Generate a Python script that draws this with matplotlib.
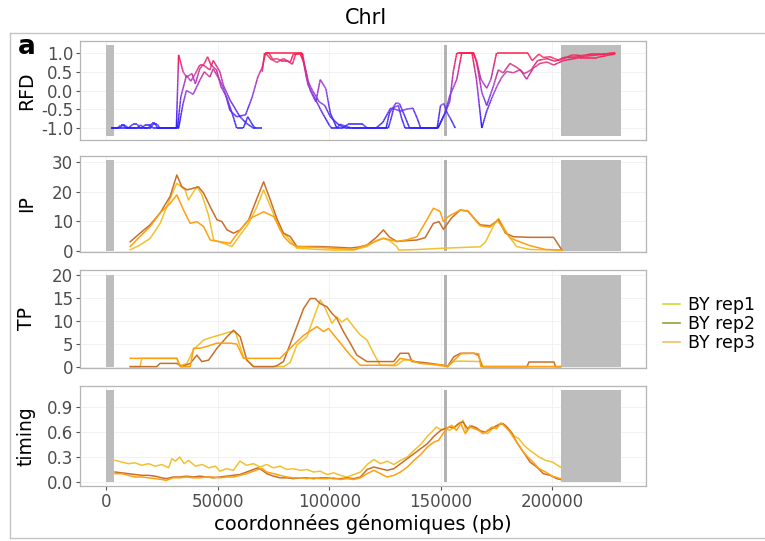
import numpy as np
import matplotlib
matplotlib.use("Agg")
import matplotlib.pyplot as plt
from matplotlib.collections import LineCollection
from matplotlib.colors import LinearSegmentedColormap, Normalize
from matplotlib.lines import Line2D
from matplotlib.patches import Rectangle

nan = float("nan")

# positions en kb
rfd_pos_rep1 = [2, 6, 7.5, 9, 14, 15.5, 17, 20, 21, 23, 24, 31.5, 32.5, 34.5, 36, 38.5, 40, 42, 44, 45.5,
                47, 49.5, 51.5, 54, 57, 58.5, 61.5, 63.5, 66, 67, nan, 70, 71, 73, 75, 76.5, 79.5, 82.5, 84, 87,
                88.5, 90.5, 93.5, 96.5, 100, 101, 103.5, 105, 107, 110, 120, 125.5, 127, 130, 131.5, 134, 136, 148.4, 149.9, 151.4,
                152.9, 154.4, 156.5, nan, 158, 164.7, 166, 168, 170.6, 172.5, 175, 182, 189, 191, 194, 196, 199, 203, 205, 209,
                213, 217, 222, 228]
rfd_rep1 = [-1, -1, -0.92, -1, -1, -0.92, -1, -1, -0.9, -0.9, -1, -1, 0.95, 0.5, 0.36, 0.45, 0.18, 0.58, 0.72, 0.9,
            0.68, 0.55, 0.1, -0.17, -0.7, -1, -1, -0.7, -0.95, -1, nan, 0.5, 1, 1, 0.8, 0.75, 0.85, 0.75, 0.98, 0.98,
            0.75, 0.15, -0.2, -0.55, -0.92, -1, -1, -0.9, -0.95, -1, -1, -1, -0.6, -0.33, -0.35, -0.7, -1, -1, -0.4, -0.35,
            -0.6, -0.75, -1, nan, 1, 1, 0.8, 0.3, 0.06, 0.3, 1, 1, 1, 0.8, 0.97, 0.88, 0.9, 0.8, 0.85, 0.95,
            0.93, 0.97, 0.97, 1]

rfd_pos_rep2 = [2, 10, 12, 14, 15, 19, 20.5, 22, 23, 32, 33.5, 36, 38, 40, 42, 43.5, 46.5, 48, 51, 52.5,
                55.5, 60, 63, 66, 70, nan, 71.5, 74, 76.5, 78.5, 81, 83.5, 85, 87.5, 89.5, 91.5, 94, 96, 98.5, 100.5,
                103.4, 106, 108.5, 115, 117, 126.5, 127.5, 129, 131, 132.5, 134, 148.8, 151.9, 154, 155.6, 157.2, 164, 166, 168.4, 170.6,
                172.9, 175.1, 177.3, 179.6, 182.6, 185.6, 188.5, 191.5, 194.5, 197.6, 200.6, 205.1, 212.6, 220.1, 228.3]
rfd_rep2 = [-1, -1, -0.9, -0.9, -1, -1, -0.88, -0.88, -1, -1, -0.17, 0.4, 0.25, 0.45, 0.68, 0.68, 0.55, 0.8, 0.5, 0.15,
            -0.25, -0.7, -0.88, -1, -1, nan, 1, 0.82, 0.85, 0.8, 0.8, 0.7, 0.98, 1, 0.55, 0.0, -0.3, 0.29, 0.05, -0.6,
            -1, -1, -0.9, -0.9, -1, -1, -0.8, -0.45, -0.4, -0.75, -1, -1, -0.6, -0.3, 0.5, 1, 1, 0.3, -1, -0.55,
            -0.2, 0.1, 0.35, 0.51, 0.47, 0.56, 0.3, 0.6, 0.72, 0.76, 0.68, 0.8, 0.88, 0.88, 0.98]

rfd_pos_rep3 = [2, 5, 6.5, 8.5, 10, 16, 17.5, 19.5, 21, 32.5, 34.5, 36, 39, 42, 44, 46.5, 48, 51, 53, 55.5,
                58.5, 62.5, 65.5, 68, 70, 71.5, 88, 90, 92.5, 95.5, 98, 100.5, 104, 107, 121, 124, 127.5, 129.5, 132, 134.5,
                137.5, 139.5, 141, 148.7, 151.9, 154, 157.2, 159.4, 164.7, 166.2, 168.4, 170.6, 173.5, 175.8, 178, 181, 184, 187.5, 190.5, 193.4,
                197.6, 201.3, 205.1, 212.6, 220, 228.3]
rfd_rep3 = [-1, -1, -0.93, -0.93, -1, -1, -0.92, -0.92, -1, -1, -0.35, 0.0, -0.1, 0.27, 0.5, 0.36, 0.58, 0.27, 0.0, -0.53,
            -0.7, -0.65, -0.17, 0.36, 0.62, 1, 1, 0.3, 0.0, -0.3, -0.4, -0.7, -0.9, -1, -1, -0.85, -0.47, -0.5, -0.55, -0.5,
            -0.47, -0.75, -1, -1, -0.61, -0.15, 0.3, 1, 1, 0.72, -0.05, -0.4, 0.1, 0.55, 0.47, 0.72, 0.62, 0.45, 0.55, 0.8,
            0.85, 0.78, 0.88, 0.9, 0.95, 1]

ip_pos_rep1 = [10.8, 15.2, 19.7, 24.2, 28.7, 31.7, 35.4, 36.9, 40.7, 42.9, 45.9, 48.2, 52.7, 56.4, 60.1, 63.9, 67.6, 70.6, 74.3, 78.0,
               81.0, 85.5, 95.9, 102, 110.9, 116.9, 121, 124.3, 127, 130.3, 131.2, 140, 150, 160, 167.7, 170, 174, 175.9, 180.5, 184,
               190, 204.3]
ip_rep1 = [0.4, 2.0, 4.2, 9.3, 17.7, 22.8, 20.6, 17.2, 21.7, 19.0, 12.1, 3.7, 2.6, 1.5, 5.4, 9.3, 14.9, 20.6, 13.8, 7.1,
           4.9, 0.95, 0.5, 0.3, 0.3, 1.5, 3.5, 4.3, 3.5, 1.5, 0.3, 0.5, 0.9, 1.2, 1.4, 3.0, 9.0, 11.0, 5.0, 1.5,
           0.5, 0.3]
ip_pos_rep2 = [10.8, 15.2, 19.7, 24.2, 28.7, 31.7, 33.9, 36.2, 38.4, 41.4, 43.7, 47.4, 49.7, 51.9, 54.2, 57.1, 60.1, 63.9, 67.6, 70.6,
               73.6, 76.5, 79.5, 82.5, 85.5, 94.5, 102, 109.4, 113, 116.9, 121, 124.3, 127, 130.3, 135, 139.3, 143, 146.7, 149.2, 151.2,
               154.7, 158.7, 162, 165, 167.7, 172.2, 175.9, 179, 182.6, 190, 200.6, 204.3]
ip_rep2 = [3.1, 6.0, 8.8, 12.8, 18.4, 25.6, 21.7, 20.6, 21.0, 21.6, 19.5, 13.8, 10.5, 9.9, 7.1, 6.0, 7.1, 10.5, 17.7, 23.3,
           17.2, 11.0, 6.0, 4.9, 1.5, 1.5, 1.3, 1.0, 1.3, 2.0, 4.5, 7.1, 4.7, 3.2, 3.5, 3.7, 4.5, 9.3, 9.9, 7.3,
           11.0, 13.8, 13.5, 11.0, 8.8, 8.5, 10.5, 6.0, 4.8, 4.6, 4.6, 0.3]
ip_pos_rep3 = [10.8, 15.2, 19.7, 24.2, 28.7, 31.7, 34.7, 37.7, 40.7, 43.7, 46.7, 51.2, 55.6, 60.1, 64.6, 70.6, 75.1, 79.6, 82.5, 85.5,
               95, 105, 110.9, 116.9, 121, 124.3, 127, 130.3, 135, 139.3, 143.7, 146.7, 149.7, 151.2, 153.4, 158.7, 162.5, 166, 167.7, 172,
               175.5, 178.5, 181, 184, 190, 197, 204.3]
ip_rep3 = [1.5, 4.9, 8.2, 12.8, 16.0, 18.9, 13.8, 9.3, 9.9, 8.2, 3.7, 3.1, 2.6, 7.1, 11.0, 13.2, 11.6, 4.9, 2.6, 1.5,
           1.2, 0.8, 0.5, 2.0, 3.3, 4.3, 3.8, 3.2, 3.8, 4.8, 10.4, 14.4, 13.3, 9.9, 11.6, 13.8, 13.3, 9.9, 8.5, 8.0,
           10.3, 7.0, 4.5, 3.5, 1.8, 0.5, 0.3]

tp_pos_rep1 = [10.8, 15.2, 16.0, 31.7, 33.2, 36.2, 39.2, 43.7, 48.2, 51.2, 55.7, 57.9, 61.6, 66.1, 79.5, 82.5, 85.5, 90.0, 93.0, 96.0,
               98.2, 101.2, 103.4, 105.7, 108.0, 110.9, 113.9, 116.9, 119.9, 122.9, 130, 133.3, 136.3, 140, 152.8, 155.8, 158.8, 167.8, 169, 203.7]
tp_rep1 = [0.1, 0.1, 1.9, 1.9, 0.3, 0.8, 3.8, 5.9, 6.6, 7.0, 7.7, 7.7, 2.2, 0.1, 0.1, 1.0, 4.8, 6.6, 10.6, 14.6,
           12.8, 9.5, 10.9, 9.8, 10.6, 8.8, 7.0, 5.9, 3.0, 0.4, 0.3, 1.5, 1.6, 1.0, 0.1, 1.2, 1.3, 1.2, 0.1, 0.1]
tp_pos_rep2 = [10.8, 22.7, 24.2, 31.7, 33.9, 37.7, 40.7, 42.9, 45.9, 49.7, 54.2, 57.1, 60.1, 63.1, 66.1, 75.1, 76.5, 79.5, 84.0, 88.5,
               91.5, 93.7, 96.0, 99.0, 101.2, 103.4, 106.4, 109.4, 112.4, 116.9, 128.9, 131.8, 135.6, 137.1, 142.3, 151.3, 153, 155.8, 158.8, 165,
               167, 168.5, 188.7, 189.5, 200.7, 201.5, 203.7]
tp_rep2 = [0.1, 0.1, 0.8, 0.8, 0.1, 0.8, 2.6, 1.2, 1.5, 4.1, 6.6, 8.0, 6.6, 1.5, 0.1, 0.1, 0.3, 1.2, 6.9, 12.7,
           14.9, 14.9, 13.8, 13.1, 11.7, 10.6, 7.7, 5.2, 2.6, 1.2, 1.2, 3.0, 3.0, 1.2, 1.0, 0.4, 0.1, 2.2, 3.0, 3.0,
           2.5, 0.1, 0.1, 1.1, 1.1, 0.1, 0.1]
tp_pos_rep3 = [10.8, 31.7, 33.2, 37.7, 39.2, 42.2, 45.2, 49.7, 55.7, 58.6, 61.6, 78.0, 82.5, 88.5, 94.5, 97.5, 99.7, 102.7, 105.7, 109.4,
               113.9, 128.9, 131.8, 136.3, 140.8, 151.3, 153, 156, 159, 164, 167, 168, 203.7]
tp_rep3 = [1.9, 1.9, 0.1, 0.1, 4.1, 4.1, 4.5, 5.2, 5.2, 5.0, 1.9, 1.9, 4.1, 6.9, 8.8, 7.7, 8.4, 6.6, 4.8, 2.6,
           0.4, 0.4, 1.9, 1.5, 0.8, 0.4, 0.1, 1.5, 2.9, 3.0, 2.9, 0.1, 0.1]

timing_pos_rep1 = [4, 7, 10, 13, 16, 19, 22, 25, 28, 29.5, 31, 33, 35, 37, 40, 43, 46, 49, 51, 54,
                   57, 60, 63, 66, 69, 72, 75, 78, 81, 84, 87, 90, 93, 96, 99, 102, 105, 108, 111, 114,
                   117, 120, 123, 126, 129, 132, 135, 138, 141, 144, 146, 148, 150, 152, 154, 156, 158, 160, 161.5, 163,
                   165, 167, 169, 171, 173, 175, 177, 179, 181, 183, 185, 187, 189, 191, 194, 197, 200, 203.6]
timing_rep1 = [0.26, 0.24, 0.22, 0.23, 0.20, 0.22, 0.19, 0.21, 0.17, 0.28, 0.25, 0.30, 0.22, 0.26, 0.19, 0.21, 0.17, 0.19, 0.13, 0.16,
               0.14, 0.25, 0.20, 0.22, 0.18, 0.21, 0.17, 0.19, 0.15, 0.16, 0.14, 0.15, 0.12, 0.13, 0.09, 0.11, 0.08, 0.06, 0.09, 0.12,
               0.21, 0.27, 0.22, 0.25, 0.21, 0.26, 0.30, 0.38, 0.45, 0.55, 0.60, 0.66, 0.63, 0.64, 0.62, 0.66, 0.70, 0.74, 0.60, 0.68,
               0.66, 0.62, 0.60, 0.58, 0.64, 0.66, 0.70, 0.68, 0.62, 0.55, 0.52, 0.45, 0.40, 0.36, 0.30, 0.26, 0.24, 0.18]
timing_pos_rep2 = [4, 7, 10, 13, 16, 19, 22, 25, 27, 30, 33, 36, 39, 42, 45, 48, 51, 54, 57, 60,
                   63, 66, 68, 70, 72, 75, 78, 81, 84, 87, 90, 93, 96, 99, 102, 105, 108, 111, 114, 117,
                   120, 123, 126, 129, 132, 135, 138, 141, 144, 147, 150, 152, 154, 156, 158, 160, 162, 164, 166, 168,
                   170, 172, 174, 176, 178, 180, 182, 184, 186, 188, 190, 193, 196, 199, 202, 203.6]
timing_rep2 = [0.12, 0.11, 0.10, 0.09, 0.08, 0.08, 0.07, 0.05, 0.04, 0.06, 0.06, 0.07, 0.06, 0.07, 0.06, 0.05, 0.06, 0.07, 0.08, 0.09,
               0.12, 0.15, 0.17, 0.14, 0.10, 0.07, 0.05, 0.05, 0.04, 0.05, 0.05, 0.04, 0.05, 0.05, 0.04, 0.04, 0.05, 0.04, 0.06, 0.15,
               0.18, 0.16, 0.14, 0.16, 0.22, 0.28, 0.34, 0.40, 0.46, 0.55, 0.62, 0.64, 0.66, 0.65, 0.70, 0.72, 0.64, 0.67, 0.65, 0.61,
               0.60, 0.63, 0.66, 0.69, 0.70, 0.65, 0.58, 0.48, 0.40, 0.32, 0.24, 0.18, 0.10, 0.08, 0.04, 0.03]
timing_pos_rep3 = [4, 7, 10, 13, 16, 19, 22, 25, 27, 30, 33, 36, 39, 42, 45, 48, 51, 54, 57, 60,
                   63, 66, 68, 70, 72, 75, 78, 81, 84, 87, 90, 93, 96, 99, 102, 105, 108, 111, 114, 117,
                   120, 123, 126, 129, 132, 135, 138, 141, 144, 147, 149, 151, 153, 155, 157, 159, 161, 163, 165, 167,
                   169, 171, 173, 175, 177, 179, 181, 183, 185, 187, 189, 191, 194, 197, 200, 203.6]
timing_rep3 = [0.10, 0.10, 0.08, 0.06, 0.06, 0.05, 0.04, 0.03, 0.02, 0.05, 0.05, 0.06, 0.05, 0.05, 0.06, 0.06, 0.05, 0.06, 0.06, 0.08,
               0.10, 0.13, 0.15, 0.16, 0.12, 0.10, 0.08, 0.06, 0.05, 0.05, 0.04, 0.05, 0.04, 0.04, 0.05, 0.03, 0.04, 0.03, 0.05, 0.10,
               0.14, 0.10, 0.06, 0.08, 0.12, 0.18, 0.26, 0.33, 0.42, 0.48, 0.50, 0.58, 0.65, 0.68, 0.62, 0.70, 0.58, 0.66, 0.64, 0.62,
               0.58, 0.62, 0.66, 0.64, 0.71, 0.66, 0.60, 0.52, 0.44, 0.36, 0.30, 0.25, 0.16, 0.12, 0.07, 0.04]

replicates = ["BY rep1", "BY rep2", "BY rep3"]
line_colors = ["#f2c12e", "#c8702a", "#ffa010"]
legend_colors = ["#cddc39", "#8fa33a", "#f5c06b"]

# regions masquees (pb)
masked_regions = [(0, 3600), (204000, 230800)]
centromere = (151400, 152600)
xticks = [0, 50000, 100000, 150000, 200000]

plt.rcParams["font.family"] = "DejaVu Sans"
plt.rcParams["axes.unicode_minus"] = False

W, H = 765, 541
fig = plt.figure(figsize=(W / 100, H / 100), dpi=100)


def add_panel(top, bottom):
    return fig.add_axes([80 / W, 1 - bottom / H, 566 / W, (bottom - top) / H])


def style(ax, ylim, yticks, fmt, rect_y, ylabel, bottom=False):
    ax.set_xlim(-11700, 242000)
    ax.set_ylim(*ylim)
    ax.set_xticks(xticks)
    ax.set_yticks(yticks)
    ax.set_yticklabels([fmt % t for t in yticks])
    ax.grid(True, color="#f0f0f0", lw=0.6)
    ax.set_axisbelow(True)
    for s in ax.spines.values():
        s.set_color("#b5b5b5")
        s.set_linewidth(0.9)
    ax.tick_params(axis="y", length=3, width=0.8, color="#555555",
                   labelcolor="#4d4d4d", labelsize=12, pad=2)
    if bottom:
        ax.set_xticklabels([str(v) for v in xticks])
        ax.tick_params(axis="x", length=3, width=0.8, color="#555555",
                       labelcolor="#4d4d4d", labelsize=12, pad=2)
    else:
        ax.tick_params(axis="x", length=0, labelbottom=False)
    for x0, x1 in masked_regions:
        ax.add_patch(Rectangle((x0, rect_y[0]), x1 - x0, rect_y[1] - rect_y[0],
                               facecolor="#bdbdbd", lw=0, zorder=1))
    ax.add_patch(Rectangle((centromere[0], rect_y[0]), centromere[1] - centromere[0],
                           rect_y[1] - rect_y[0], facecolor="#b3b3b3", lw=0, zorder=1))
    ax.set_ylabel(ylabel, fontsize=13.5)
    ax.yaxis.set_label_coords(-0.078, 0.5)


# RFD : couleur selon la valeur (bleu -> violet -> rouge)
rfd_cmap = LinearSegmentedColormap.from_list("rfd", ["#2c22ff", "#9a3fe0", "#ff1f4f"])
rfd_norm = Normalize(-1, 1)


def gradient_line(ax, pos_kb, vals):
    x = np.asarray(pos_kb, float) * 1000
    y = np.asarray(vals, float)
    segs, cols = [], []
    t = np.linspace(0, 1, 9)
    for i in range(len(x) - 1):
        if np.isnan(y[i]) or np.isnan(y[i + 1]):
            continue
        px = x[i] + t * (x[i + 1] - x[i])
        py = y[i] + t * (y[i + 1] - y[i])
        for j in range(len(t) - 1):
            segs.append([(px[j], py[j]), (px[j + 1], py[j + 1])])
            cols.append((py[j] + py[j + 1]) / 2)
    lc = LineCollection(segs, cmap=rfd_cmap, norm=rfd_norm, linewidths=1.1, zorder=3)
    lc.set_array(np.array(cols))
    ax.add_collection(lc)


ax1 = add_panel(41, 140)
style(ax1, (-1.32, 1.32), [-1.0, -0.5, 0.0, 0.5, 1.0], "%.1f", (-1.22, 1.22), "RFD")
for p, v in [(rfd_pos_rep1, rfd_rep1), (rfd_pos_rep2, rfd_rep2), (rfd_pos_rep3, rfd_rep3)]:
    gradient_line(ax1, p, v)

ax2 = add_panel(156, 252)
style(ax2, (-0.34, 32.0), [0, 10, 20, 30], "%d", (0, 30.6), "IP")
for p, v, c in zip([ip_pos_rep1, ip_pos_rep2, ip_pos_rep3], [ip_rep1, ip_rep2, ip_rep3], line_colors):
    ax2.plot(np.array(p) * 1000, v, color=c, lw=1.1, zorder=3)

ax3 = add_panel(270, 368)
style(ax3, (-0.2, 21.1), [0, 5, 10, 15, 20], "%d", (0, 20), "TP")
for p, v, c in zip([tp_pos_rep1, tp_pos_rep2, tp_pos_rep3], [tp_rep1, tp_rep2, tp_rep3], line_colors):
    ax3.plot(np.array(p) * 1000, v, color=c, lw=1.1, zorder=3)

ax4 = add_panel(386, 486)
style(ax4, (-0.048, 1.152), [0.0, 0.3, 0.6, 0.9], "%.1f", (0, 1.11), "timing", bottom=True)
for p, v, c in zip([timing_pos_rep1, timing_pos_rep2, timing_pos_rep3],
                   [timing_rep1, timing_rep2, timing_rep3], line_colors):
    ax4.plot(np.array(p) * 1000, v, color=c, lw=1.1, zorder=3)
ax4.set_xlabel("coordonnées génomiques (pb)", fontsize=14, labelpad=2)

# cadre, titre, lettre du panneau
frame_kw = dict(transform=fig.transFigure, color="#c4c4c4", lw=1)
fig.add_artist(Line2D([10 / W, 10 / W], [1 - 538 / H, 1 - 33 / H], **frame_kw))
fig.add_artist(Line2D([10 / W, 1], [1 - 33 / H, 1 - 33 / H], **frame_kw))
fig.add_artist(Line2D([10 / W, 1], [1 - 538 / H, 1 - 538 / H], **frame_kw))
fig.text(366 / W, 1 - 18 / H, "ChrI", ha="center", va="center", fontsize=15)
fig.text(27 / W, 1 - 47 / H, "a", ha="center", va="center", fontsize=19, fontweight="bold")

handles = [Line2D([], [], color=c, lw=1.2) for c in legend_colors]
fig.legend(handles, replicates, loc="upper left", bbox_to_anchor=(663 / W, 1 - 296 / H),
           frameon=False, fontsize=12.5, handlelength=1.0, handletextpad=0.45,
           labelspacing=0.05, borderaxespad=0, borderpad=0)

fig.savefig("out.png", dpi=100)
